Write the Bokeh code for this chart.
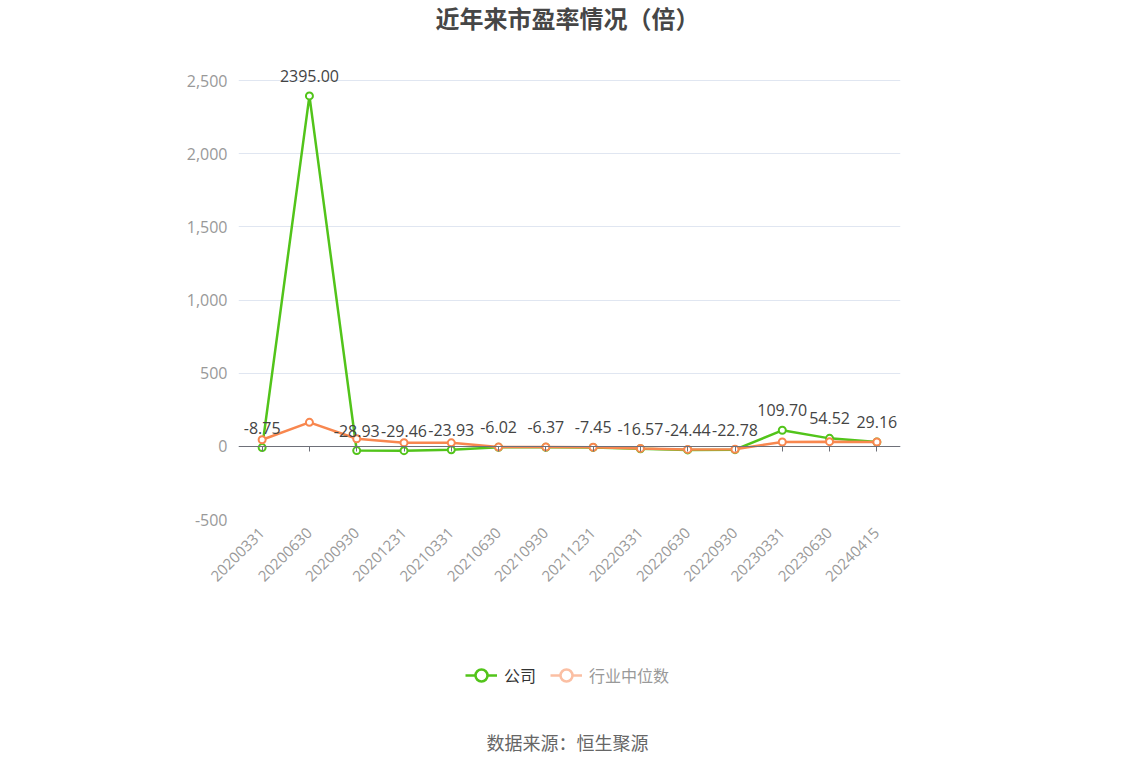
import math
from bokeh.plotting import figure
from bokeh.layouts import column
from bokeh.models import (Range1d, FactorRange, CategoricalAxis, NumeralTickFormatter,
                          FixedTicker, Label, Legend, LegendItem, ColumnDataSource)
from bokeh.core.properties import value
from bokeh.embed import file_html
from bokeh.resources import INLINE

dates = ["20200331", "20200630", "20200930", "20201231", "20210331", "20210630",
         "20210930", "20211231", "20220331", "20220630", "20220930", "20230331",
         "20230630", "20240415"]
company = [-8.75, 2395.00, -28.93, -29.46, -23.93, -6.02, -6.37, -7.45,
           -16.57, -24.44, -22.78, 109.70, 54.52, 29.16]
industry = [45, 164, 52, 25, 24, -5, -5, -6, -14, -21, -20, 30, 32, 30]
y_ticks = [-500, 0, 500, 1000, 1500, 2000, 2500]

GREEN = "#52c41a"
ORANGE = "#f8874f"
NUM_FONT = "Open Sans"
CJK_FONT = "Noto Sans CJK SC"


def strip(height):
    s = figure(width=1118, height=height, x_range=Range1d(0, 1), y_range=Range1d(0, 1),
               x_axis_type=None, y_axis_type=None, output_backend="svg",
               toolbar_location=None, tools="", min_border=0)
    s.outline_line_color = None
    s.grid.visible = False
    return s


# title strip
t = strip(50)
t.add_layout(Label(x=329, y=33, x_units="screen", y_units="screen",
                   text="近年来市盈率情况（倍）", text_align="center",
                   text_baseline="middle", text_font_size="24px",
                   text_font_style="bold", text_color="#464646",
                   text_font=CJK_FONT))

# main chart (frame extended a little above 2,500 so the top label is not cut)
p = figure(width=1118, height=580, x_range=FactorRange(factors=dates),
           y_range=Range1d(-500, 2637), output_backend="svg",
           toolbar_location=None, tools="")
p.min_border_left = 238
p.min_border_right = 218
p.min_border_top = 10
p.min_border_bottom = 111
p.outline_line_color = None

p.yaxis.ticker = FixedTicker(ticks=y_ticks)
p.yaxis.formatter = NumeralTickFormatter(format="0,0")
p.yaxis.axis_line_color = None
p.yaxis.major_tick_line_color = None
p.yaxis.minor_tick_line_color = None
p.yaxis.major_label_standoff = 5
p.yaxis.major_label_text_color = "#999999"
p.yaxis.major_label_text_font_size = "16px"
p.yaxis.major_label_text_font = NUM_FONT
p.ygrid.grid_line_color = "#e0e6f1"
p.xgrid.grid_line_color = None

p.xaxis.axis_line_color = None
p.xaxis.major_tick_line_color = None
p.xaxis.major_label_orientation = math.pi / 4
p.xaxis.major_label_standoff = 5
p.xaxis.major_label_text_color = "#999999"
p.xaxis.major_label_text_font_size = "15px"
p.xaxis.major_label_text_font = NUM_FONT

# axis line with ticks at y = 0 (labels are on the bottom axis)
zero_axis = CategoricalAxis(fixed_location=0, axis_line_color="#6e7079",
                            major_tick_line_color="#6e7079", major_tick_out=5,
                            major_tick_in=0, major_label_text_font_size="0px")
p.add_layout(zero_axis, "below")

src = ColumnDataSource(dict(x=dates, company=company, industry=industry,
                            lbl=["%.2f" % v for v in company]))

p.line("x", "company", source=src, line_color=GREEN, line_width=2.5)
p.scatter("x", "company", source=src, size=7, fill_color="white",
          line_color=GREEN, line_width=2)
p.line("x", "industry", source=src, line_color=ORANGE, line_width=2.5)
p.scatter("x", "industry", source=src, size=7, fill_color="white",
          line_color=ORANGE, line_width=2)

p.text("x", "company", text="lbl", source=src, text_align="center",
       text_baseline="bottom", y_offset=-14, text_font_size="16px",
       text_color="#444444", text_font=value(NUM_FONT))

# bottom strip: legend and source note
f = strip(130)
lg_line1 = f.line(x=[-5], y=[-5], line_color=GREEN, line_width=2.5)
lg_pt1 = f.scatter(x=[-5], y=[-5], fill_color="white", line_color=GREEN, line_width=2.5)
lg_line2 = f.line(x=[-5], y=[-5], line_color="#fbbfa3", line_width=2.5)
lg_pt2 = f.scatter(x=[-5], y=[-5], fill_color="white", line_color="#fbbfa3", line_width=2.5)

for items, loc, color in [([LegendItem(label="公司", renderers=[lg_line1, lg_pt1])], (227, 70), "#333333"),
                          ([LegendItem(label="行业中位数", renderers=[lg_line2, lg_pt2])], (312, 70), "#999999")]:
    lg = Legend(items=items, location=loc, orientation="horizontal",
                glyph_width=32, glyph_height=30, label_standoff=7,
                padding=0, margin=0, border_line_color=None,
                background_fill_alpha=0, label_text_font_size="16px",
                label_text_color=color, label_text_font=CJK_FONT)
    f.add_layout(lg)

f.add_layout(Label(x=329, y=19, x_units="screen", y_units="screen",
                   text="数据来源：恒生聚源", text_align="center",
                   text_baseline="middle", text_font_size="18px",
                   text_color="#666666", text_font=CJK_FONT))

layout = column(t, p, f, spacing=0)
open("out.html", "w").write(file_html(layout, INLINE))
